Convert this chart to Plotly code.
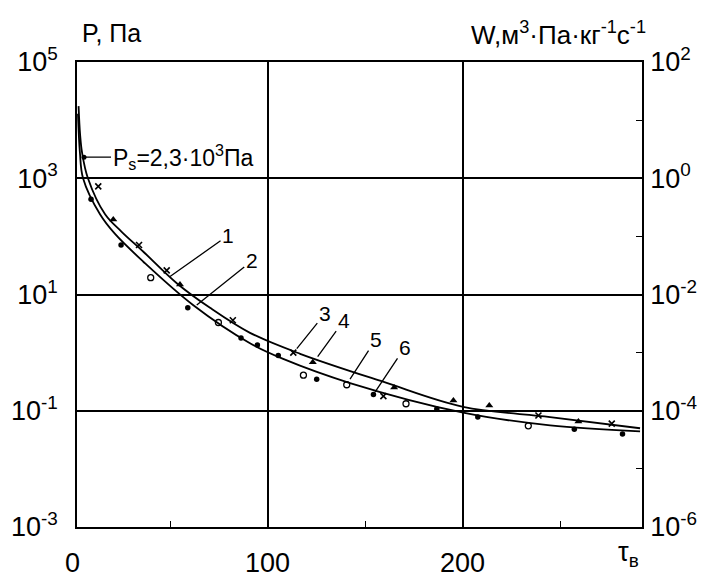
import numpy as np
import plotly.graph_objects as go

# ---- data ----
# upper curve (1)
curve1_x = [3.1, 3.9, 4.9, 7.9, 16.7, 25.2, 36.2, 53.6, 70.5, 91.0, 116.7, 159.2, 200.3, 244.9, 291]
curve1_y = [1.74e4, 5.6e3, 2.75e3, 1.0e3, 240, 120, 55, 15.5, 5.9, 2.19, 0.955, 0.316, 0.117, 0.078, 0.050]
# lower curve (2)
curve2_x = [2.8, 3.8, 5.4, 14.1, 21.8, 36.2, 61.8, 91.0, 108.0, 142.3, 200.3, 244.9, 291]
curve2_y = [1.29e4, 2.75e3, 1.0e3, 240, 110, 37, 6.6, 1.45, 0.78, 0.30, 0.093, 0.056, 0.044]

# experimental points
cross_x = [13.2, 34.1, 48.3, 82.2, 113.2, 159.4, 238.9, 276.5]
cross_y = [725, 71, 26, 3.6, 1.0, 0.178, 0.083, 0.060]
fcirc_x = [9.5, 24.9, 59.1, 86.4, 94.8, 105.5, 125.2, 154.3, 186.8, 207.8, 257.3, 282.0]
fcirc_y = [437, 71, 5.9, 1.78, 1.35, 0.89, 0.35, 0.19, 0.107, 0.078, 0.048, 0.040]
ocirc_x = [40.1, 74.8, 118.4, 140.6, 171.0, 233.7]
ocirc_y = [19.5, 3.3, 0.41, 0.28, 0.132, 0.055]
tri_x = [20.9, 55.1, 123.2, 164.9, 195.3, 213.7, 259.4]
tri_y = [195, 14.8, 0.68, 0.25, 0.15, 0.123, 0.065]
ps_x = [5.9]
ps_y = [2.3e3]

# curve labels: text, target x, target y, text offset (px)
label_text = ["1", "2", "3", "4", "5", "6"]
label_x = [50.0, 63.7, 115.0, 125.7, 142.3, 155.1]
label_y = [20.4, 6.6, 1.17, 0.85, 0.35, 0.21]
label_ax = [58, 55, 28, 26, 26, 30]
label_ay = [-41, -44, -35, -36, -40, -45]

# axes
x_range = [2.3, 292]
x_grid_vals = [100, 200]
x_minor_vals = [50, 150, 250]
x_tick_vals = [0, 100, 200]
x_tick_text = ["0", "100", "200"]
yl_vals = [1e5, 1e3, 1e1, 1e-1, 1e-3]
yl_text = ["10<sup>5</sup>", "10<sup>3</sup>", "10<sup>1</sup>", "10<sup>-1</sup>", "10<sup>-3</sup>"]
yr_vals = [1e2, 1e0, 1e-2, 1e-4, 1e-6]
yr_text = ["10<sup>2</sup>", "10<sup>0</sup>", "10<sup>-2</sup>", "10<sup>-4</sup>", "10<sup>-6</sup>"]
yr_minor = [1e1, 1e-1, 1e-3, 1e-5]

FONT = "Liberation Sans, Arial, sans-serif"
TICKSIZE = 27

fig = go.Figure()
for cx, cy in [(curve1_x, curve1_y), (curve2_x, curve2_y)]:
    fig.add_trace(go.Scatter(x=cx, y=cy, mode="lines", line=dict(color="black", width=1.8, shape="spline", smoothing=1.0),
                             hoverinfo="skip", showlegend=False))

fig.add_trace(go.Scatter(x=cross_x, y=cross_y, mode="markers",
                         marker=dict(symbol="x-thin", size=6, line=dict(color="black", width=1.6)), showlegend=False))
fig.add_trace(go.Scatter(x=fcirc_x, y=fcirc_y, mode="markers",
                         marker=dict(symbol="circle", size=5.5, color="black"), showlegend=False))
fig.add_trace(go.Scatter(x=ocirc_x, y=ocirc_y, mode="markers",
                         marker=dict(symbol="circle-open", size=6, color="black", line=dict(width=1.3)), showlegend=False))
fig.add_trace(go.Scatter(x=tri_x, y=tri_y, mode="markers",
                         marker=dict(symbol="triangle-up", size=7, color="black"), showlegend=False))
fig.add_trace(go.Scatter(x=ps_x, y=ps_y, mode="markers",
                         marker=dict(symbol="circle", size=5, color="black"), showlegend=False))
# invisible trace for the right axis
fig.add_trace(go.Scatter(x=[150], y=[1e-3], yaxis="y2", mode="markers", marker=dict(opacity=0),
                         hoverinfo="skip", showlegend=False))

X0, X1 = x_range


def xpaper(v):
    return (v - X0) / (X1 - X0)


ann = []
for t, lx, ly, ax, ay in zip(label_text, label_x, label_y, label_ax, label_ay):
    ann.append(dict(x=lx, y=np.log10(ly), xref="x", yref="y", text=t, showarrow=True, arrowhead=0,
                    arrowwidth=1.3, arrowcolor="black", ax=ax, ay=ay, font=dict(size=21, family=FONT, color="black")))
ann.append(dict(x=ps_x[0], y=np.log10(ps_y[0]), xref="x", yref="y",
                text="P<sub>s</sub>=2,3·10<sup>3</sup>Па", showarrow=True, arrowhead=0, arrowwidth=1.3,
                arrowcolor="black", ax=27, ay=0, xanchor="left", font=dict(size=23, family=FONT, color="black")))
for v, t in zip(x_tick_vals, x_tick_text):
    ann.append(dict(x=xpaper(v), y=-0.077, xref="paper", yref="paper", text=t, showarrow=False,
                    xanchor="center", yanchor="middle",
                    font=dict(size=TICKSIZE, family=FONT, color="black")))
ann.append(dict(x=xpaper(285), y=-0.058, xref="paper", yref="paper", text="τ<sub>в</sub>", showarrow=False,
                xanchor="center", yanchor="middle", font=dict(size=TICKSIZE, family=FONT, color="black")))
ann.append(dict(x=0.005, y=1.062, xref="paper", yref="paper", text="P, Па", showarrow=False,
                xanchor="left", yanchor="middle", font=dict(size=25, family=FONT, color="black")))
ann.append(dict(x=1.011, y=1.062, xref="paper", yref="paper", text="W,м<sup>3</sup>·Па·кг<sup>-1</sup>с<sup>-1</sup>",
                showarrow=False, xanchor="right", yanchor="middle", font=dict(size=26, family=FONT, color="black")))

fig.update_layout(
    width=703, height=564,
    margin=dict(l=69, r=69, t=54, b=45, autoexpand=False),
    paper_bgcolor="white", plot_bgcolor="white",
    font=dict(family=FONT, color="black"),
    xaxis=dict(range=x_range, tickmode="array", tickvals=x_grid_vals, showticklabels=False, ticks="",
               automargin=False,
               showgrid=True, gridcolor="black", gridwidth=1.5, zeroline=False,
               showline=True, linecolor="black", linewidth=1.5, mirror=True,
               minor=dict(tickmode="array", tickvals=x_minor_vals, ticks="inside", ticklen=6,
                          tickcolor="black", tickwidth=1.3, showgrid=False)),
    yaxis=dict(type="log", range=[-3, 5], tickmode="array", tickvals=yl_vals, ticktext=yl_text, ticks="",
               automargin=False,
               tickfont=dict(size=TICKSIZE, family=FONT, color="black"), ticklabelstandoff=12,
               showgrid=True, gridcolor="black", gridwidth=1.5, zeroline=False,
               showline=True, linecolor="black", linewidth=1.5, mirror=True),
    yaxis2=dict(type="log", range=[-6, 2], overlaying="y", side="right", tickmode="array",
                tickvals=yr_vals, ticktext=yr_text, ticks="", ticklabelstandoff=1, automargin=False,
                tickfont=dict(size=TICKSIZE, family=FONT, color="black"), showgrid=False, zeroline=False,
                showline=True, linecolor="black", linewidth=1.5,
                minor=dict(tickmode="array", tickvals=yr_minor, ticks="inside", ticklen=6,
                           tickcolor="black", tickwidth=1.3, showgrid=False)),
    annotations=ann,
)

fig.write_html("out.html")
